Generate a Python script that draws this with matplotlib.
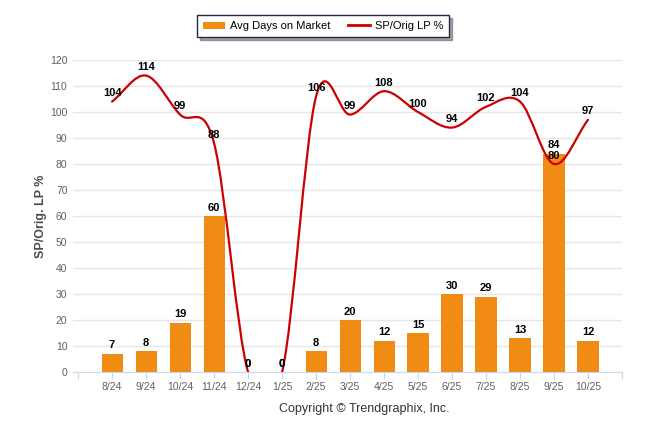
import matplotlib.pyplot as plt
import numpy as np
from matplotlib.path import Path
from matplotlib.patches import PathPatch, Patch
from matplotlib.lines import Line2D

plt.rcParams['font.family'] = ['Liberation Sans', 'DejaVu Sans']

months = ['8/24', '9/24', '10/24', '11/24', '12/24', '1/25', '2/25', '3/25',
          '4/25', '5/25', '6/25', '7/25', '8/25', '9/25', '10/25']
days_on_market = [7, 8, 19, 60, 0, 0, 8, 20, 12, 15, 30, 29, 13, 84, 12]
sp_orig_lp = [104, 114, 99, 88, 0, 0, 106, 99, 108, 100, 94, 102, 104, 80, 97]

bar_color = '#F08C14'
line_color = '#CC0000'

fig = plt.figure(figsize=(6.46, 4.34), dpi=100)
ax = fig.add_axes([73/646, 62/434, 549/646, 312/434])

x = np.arange(len(months))
ax.bar(x, days_on_market, width=0.62, color=bar_color, zorder=2)

# smooth line: cubic hermite with catmull-rom tangents, drawn as bezier path
y = np.array(sp_orig_lp, dtype=float)
m = np.zeros_like(y)
m[1:-1] = (y[2:] - y[:-2]) / 2
m[0] = y[1] - y[0]
m[-1] = y[-1] - y[-2]
verts = [(x[0], y[0])]
codes = [Path.MOVETO]
for i in range(len(y) - 1):
    verts += [(x[i] + 1/3, y[i] + m[i]/3), (x[i+1] - 1/3, y[i+1] - m[i+1]/3), (x[i+1], y[i+1])]
    codes += [Path.CURVE4] * 3
ax.add_patch(PathPatch(Path(verts, codes), facecolor='none', edgecolor=line_color,
                       lw=1.6, zorder=3, capstyle='round'))

for xi, v in zip(x, days_on_market):
    ax.annotate(str(v), (xi, v), xytext=(0, 2.5), textcoords='offset points',
                ha='center', va='bottom', fontsize=8, fontweight='bold', zorder=5)
for xi, v in zip(x, sp_orig_lp):
    ax.annotate(str(v), (xi, v), xytext=(0, 2.5), textcoords='offset points',
                ha='center', va='bottom', fontsize=8, fontweight='bold', zorder=5)

ax.set_xlim(-1.15, 15.0)
ax.set_ylim(0, 120)
ax.set_yticks(range(0, 121, 10))
ax.set_xticks(np.arange(-1, 16))
ax.set_xticklabels([''] + months + [''])
ax.tick_params(axis='y', length=0, labelsize=7.5, labelcolor='#606060', pad=4)
ax.tick_params(axis='x', length=5, color='#ccd6eb', labelsize=7.5, labelcolor='#606060', pad=2)
ax.grid(axis='y', color='#e6e6e6', lw=1)
ax.set_axisbelow(True)
for s in ['top', 'right', 'left']:
    ax.spines[s].set_visible(False)
ax.spines['bottom'].set_color('#ccd6eb')
ax.set_ylabel('SP/Orig. LP %', fontsize=9, fontweight='bold', color='#4d4d4d', labelpad=2)

handles = [Patch(facecolor=bar_color, edgecolor='none'),
           Line2D([0], [0], color=line_color, lw=2)]
leg = fig.legend(handles, ['Avg Days on Market', 'SP/Orig LP %'], loc='center',
                 bbox_to_anchor=(323/646, 1 - 26/434), ncol=2, frameon=True,
                 fontsize=8, fancybox=False, shadow=True, edgecolor='#1f2a44',
                 handlelength=2.0, handleheight=0.6, handletextpad=0.4,
                 columnspacing=1.6, borderpad=0.55)
leg.get_frame().set_linewidth(1.0)

fig.text(364/646, 1 - 409/434, 'Copyright \u00a9 Trendgraphix, Inc.', ha='center', va='center',
         fontsize=9, color='#333333')

fig.savefig('out.png', dpi=100)
